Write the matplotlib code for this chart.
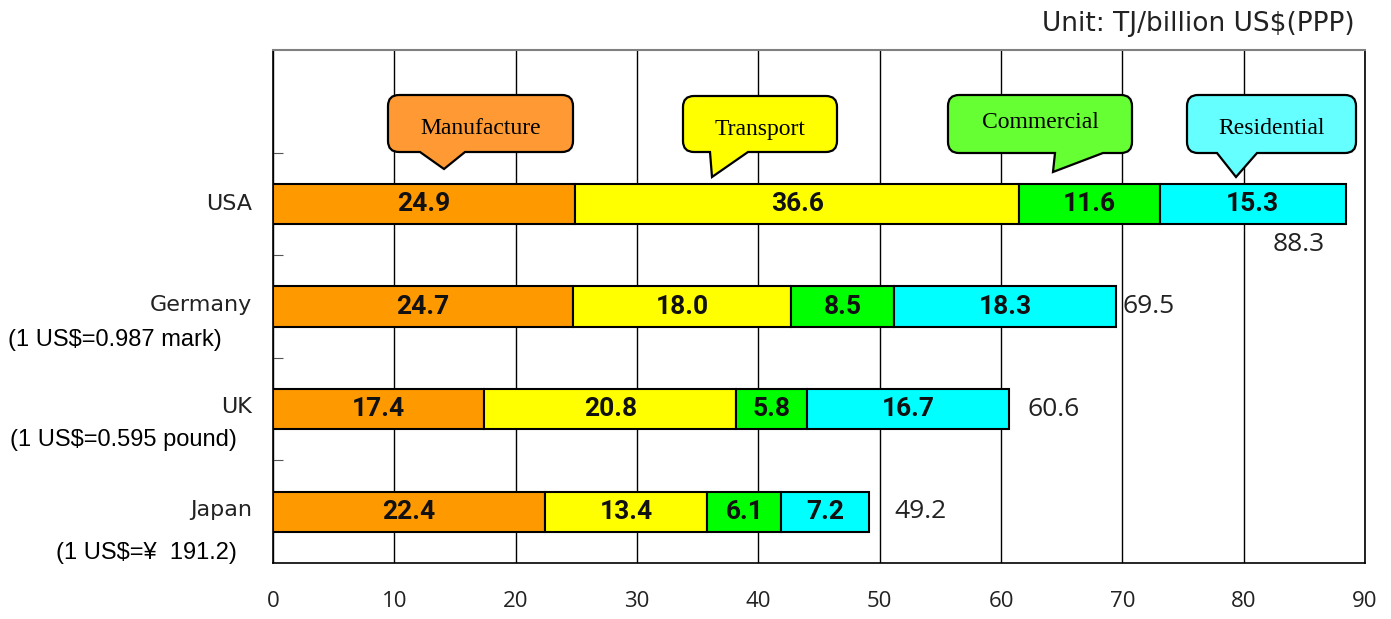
import matplotlib
matplotlib.use("Agg")
import matplotlib.pyplot as plt
from matplotlib.path import Path
from matplotlib.patches import PathPatch
import numpy as np

# ---- data ----
countries = ["USA", "Germany", "UK", "Japan"]
rates = ["", "(1 US$=0.987 mark)", "(1 US$=0.595 pound)", "(1 US$=\u00a5  191.2)"]
sectors = ["Manufacture", "Transport", "Commercial", "Residential"]
manufacture = [24.9, 24.7, 17.4, 22.4]
transport = [36.6, 18.0, 20.8, 13.4]
commercial = [11.6, 8.5, 5.8, 6.1]
residential = [15.3, 18.3, 16.7, 7.2]
totals = [88.3, 69.5, 60.6, 49.2]
xticks = [0, 10, 20, 30, 40, 50, 60, 70, 80, 90]

bar_colors = ["#FF9900", "#FFFF00", "#00FF00", "#00FFFF"]
callout_colors = ["#FF9933", "#FFFF00", "#66FF33", "#66FFFF"]

W, H = 1391, 619
fig = plt.figure(figsize=(W / 100, H / 100), dpi=100)
ax = fig.add_axes([273 / W, 1 - 563 / H, (1365 - 273) / W, (563 - 50) / H])

ypos = np.array([3, 2, 1, 0])
series = [manufacture, transport, commercial, residential]
left = np.zeros(len(countries))
for vals, col in zip(series, bar_colors):
    vals = np.array(vals)
    ax.barh(ypos, vals, left=left, height=0.39, color=col, edgecolor="black",
            linewidth=1.5, zorder=3)
    for y, l, v in zip(ypos, left, vals):
        ax.text(l + v / 2, y, f"{v:.1f}", ha="center", va="center",
                fontsize=19, fontweight="bold", family="Roboto", color="#111111",
                zorder=4)
    left = left + vals

# totals
tot_dx = [None, 0.5, 1.6, 2.0]
for i, (y, t) in enumerate(zip(ypos, totals)):
    if i == 0:
        ax.text(84.5, y - 0.4, f"{t:.1f}", ha="center", va="center",
                fontsize=19, family="Open Sans", color="#222222", zorder=4)
    else:
        ax.text(t + tot_dx[i], y, f"{t:.1f}", ha="left", va="center",
                fontsize=19, family="Open Sans", color="#222222", zorder=4)

ax.set_xlim(0, 90)
ax.set_ylim(-0.5, 4.5)
ax.set_xticks(xticks)
ax.set_xticklabels([str(x) for x in xticks], family="Open Sans", fontsize=16,
                   color="#222222")
ax.tick_params(axis="x", length=0, pad=20)
ax.set_yticks([0.5, 1.5, 2.5, 3.5])
ax.set_yticklabels([])
ax.tick_params(axis="y", direction="in", length=7, width=0.8, color="#555555")
ax.grid(axis="x", color="black", linewidth=1.0, zorder=0)
ax.set_axisbelow(True)
for s in ["left", "bottom", "right"]:
    ax.spines[s].set_color("black")
    ax.spines[s].set_linewidth(1.2)
ax.spines["top"].set_color("#808080")
ax.spines["top"].set_linewidth(1.5)

# category labels
name_y = [204, 305, 407, 510]
rate_y = [None, 340, 440, 553]
rate_x = [None, 222, 237, 237]
for i, c in enumerate(countries):
    fig.text(252 / W, 1 - name_y[i] / H, c, ha="right", va="center",
             fontsize=16, family="DejaVu Sans", color="#222222")
    if rates[i]:
        fig.text(rate_x[i] / W, 1 - rate_y[i] / H, rates[i], ha="right", va="center",
                 fontsize=17, family="Liberation Sans")

fig.text(1355 / W, 1 - 24 / H, "Unit: TJ/billion US$(PPP)", ha="right", va="center",
         fontsize=19, family="DejaVu Sans", color="#222222")

# callouts (pixel geometry, y downward)
def callout(x0, y0, x1, y1, r, tail):
    verts = [(x0 + r, y0), (x1 - r, y0), (x1, y0), (x1, y0 + r),
             (x1, y1 - r), (x1, y1), (x1 - r, y1)]
    codes = [Path.MOVETO, Path.LINETO, Path.CURVE3, Path.CURVE3,
             Path.LINETO, Path.CURVE3, Path.CURVE3]
    for p in reversed(tail):
        verts.append(p)
        codes.append(Path.LINETO)
    verts += [(x0 + r, y1), (x0, y1), (x0, y1 - r), (x0, y0 + r), (x0, y0), (x0 + r, y0)]
    codes += [Path.LINETO, Path.CURVE3, Path.CURVE3, Path.LINETO, Path.CURVE3, Path.CURVE3]
    verts = [(x / W, 1 - y / H) for x, y in verts]
    return Path(verts, codes)

boxes = [
    (388, 95, 573, 152, [(420, 152), (444, 169), (465, 152)], 128),
    (683, 96, 837, 152, [(710, 152), (712, 177), (748, 152)], 129),
    (948, 95, 1132, 153, [(1055, 153), (1053, 172), (1103, 153)], 123),
    (1187, 95, 1356, 153, [(1217, 153), (1236, 177), (1257, 153)], 129),
]
for (x0, y0, x1, y1, tail, ty), name, col in zip(boxes, sectors, callout_colors):
    pp = PathPatch(callout(x0, y0, x1, y1, 11, tail), transform=fig.transFigure,
                   facecolor=col, edgecolor="black", linewidth=1.6, zorder=5)
    fig.patches.append(pp)
    fig.text((x0 + x1) / 2 / W, 1 - ty / H, name, ha="center", va="center",
             fontsize=17, family="Liberation Serif", zorder=6)

fig.savefig("out.png", dpi=100)
